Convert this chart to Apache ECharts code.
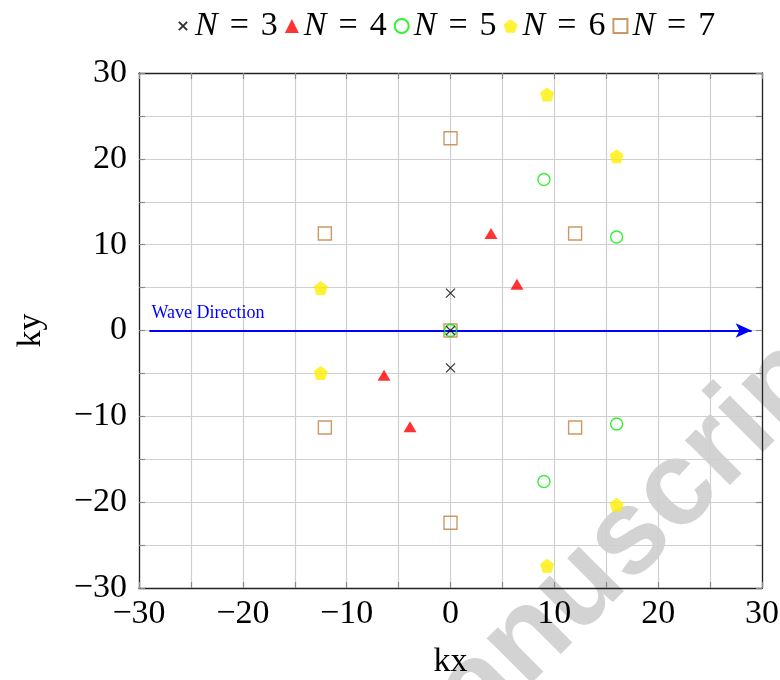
<!DOCTYPE html>
<html>
<head>
<meta charset="utf-8">
<script src="https://cdn.jsdelivr.net/npm/echarts@6/dist/echarts.min.js"></script>
<style>html,body{margin:0;padding:0;background:#fff}#c{width:780px;height:680px}</style>
</head>
<body>
<div id="c"></div>
<script>
// ---- data ----
var seriesNames = ['N = 3', 'N = 4', 'N = 5', 'N = 6', 'N = 7'];
var n3X = [0, 0, 0];
var n3Y = [0, 4.35, -4.35];
var n4X = [3.9, 6.4, -6.4, -3.9];
var n4Y = [11.3, 5.4, -5.2, -11.2];
var n5X = [0, 9.0, 16.0, 16.0, 9.0];
var n5Y = [0, 17.6, 10.9, -10.9, -17.6];
var n6X = [9.3, 16.0, -12.5, -12.5, 16.0, 9.3];
var n6Y = [27.5, 20.3, 4.95, -4.95, -20.3, -27.4];
var n7X = [0, 0, 12.0, -12.1, -12.1, 12.0, 0];
var n7Y = [0, 22.4, 11.3, 11.3, -11.3, -11.3, -22.4];
var arrowX = [-29, 29];
var arrowY = [0, 0];
var axisMin = -30, axisMax = 30, axisStep = 10;
var arrowLabel = 'Wave Direction';
var xName = 'kx', yName = 'ky';
var watermark = 'Manuscript';

function pairs(xs, ys) { return xs.map(function (x, i) { return [x, ys[i]]; }); }
function fmt(v) { return v < 0 ? '\u2212' + Math.abs(v) : String(v); }

var SERIF = '"Liberation Serif", "Times New Roman", serif';
var crossPath = 'path://M-1,-1L1,1M1,-1L-1,1';
var crossLegendPath = 'path://M-1.7,-1.7L-1.69,-1.69M-1,-1L1,1M1,-1L-1,1M1.69,1.69L1.7,1.7';
var pentPath = 'path://M0,-1L0.951,-0.309L0.588,0.809L-0.588,0.809L-0.951,-0.309Z';

function baseAxis(pos, isX, main) {
  var a = {
    type: 'value', min: axisMin, max: axisMax, interval: axisStep, position: pos,
    axisLine: { show: true, onZero: false, lineStyle: { color: '#222', width: 1.3 } },
    axisTick: { show: true, inside: true, length: 6, lineStyle: { color: '#8a8a8a', width: 1.2 } },
    minorTick: { show: true, splitNumber: 2, length: 6, lineStyle: { color: '#8a8a8a', width: 1.2 } },
    splitLine: { show: main, lineStyle: { color: '#cfcfcf', width: 1.2 } },
    minorSplitLine: { show: main, lineStyle: { color: '#cfcfcf', width: 1.2 } },
    axisLabel: { show: main, formatter: fmt, color: '#000', fontFamily: SERIF, fontSize: 34 }
  };
  if (main) {
    a.name = isX ? xName : yName;
    a.nameLocation = 'middle';
    a.nameTextStyle = { color: '#000', fontFamily: SERIF, fontSize: 34 };
    if (isX) { a.nameGap = 57; a.axisLabel.margin = 9; }
    else { a.nameGap = 91; a.axisLabel.margin = 12; }
  }
  return a;
}

var chart = echarts.init(document.getElementById('c'), null, { renderer: 'canvas' });
var option = {
  backgroundColor: '#fff',
  animation: false,
  grid: { left: 139, right: 18, top: 73, bottom: 92, containLabel: false, outerBoundsMode: 'none' },
  legend: {
    left: 170, top: 4, itemGap: 7, itemWidth: 14, itemHeight: 14,
    data: [
      { name: seriesNames[0], icon: crossLegendPath },
      seriesNames[1], seriesNames[2], seriesNames[3], seriesNames[4]
    ],
    formatter: function (n) { return '{i|N}{e|=}{d|' + n.substring(n.length - 1) + '}'; },
    textStyle: {
      color: '#000', fontFamily: SERIF, fontSize: 34,
      rich: {
        i: { fontStyle: 'italic', fontFamily: SERIF, fontSize: 34, color: '#000' },
        e: { fontFamily: SERIF, fontSize: 34, color: '#000', padding: [0, 12, 0, 12] },
        d: { fontFamily: SERIF, fontSize: 34, color: '#000' }
      }
    }
  },
  graphic: [{
    type: 'text', x: 427, y: 826, rotation: Math.PI / 4, z: -10, silent: true,
    style: { text: watermark, font: 'bold 120px "Liberation Sans", Arial, sans-serif', fill: '#d3d3d3', textAlign: 'left', textVerticalAlign: 'bottom' }
  }],
  xAxis: [baseAxis('bottom', true, true), baseAxis('top', true, false)],
  yAxis: [baseAxis('left', false, true), baseAxis('right', false, false)],
  series: [
    {
      name: 'arrow', type: 'line', data: pairs(arrowX, arrowY), symbol: 'none',
      lineStyle: { opacity: 0 }, silent: true, z: 3,
      markLine: {
        silent: true, symbol: ['none', 'arrow'], symbolSize: [11, 16], animation: false,
        lineStyle: { color: '#0000ff', width: 2, type: 'solid' },
        label: { show: true, position: 'insideStartTop', formatter: arrowLabel, color: '#0000ff', fontFamily: SERIF, fontSize: 18, distance: [2, 8] },
        data: [[{ coord: [arrowX[0], arrowY[0]] }, { coord: [arrowX[1], arrowY[1]] }]]
      }
    },
    {
      name: seriesNames[4], type: 'scatter', data: pairs(n7X, n7Y), symbol: 'rect', symbolSize: 13, z: 4,
      itemStyle: { color: 'rgba(0,0,0,0)', borderColor: '#bf8040', borderWidth: 1.4 }
    },
    {
      name: seriesNames[3], type: 'scatter', data: pairs(n6X, n6Y), symbol: pentPath, symbolSize: 14, z: 4,
      itemStyle: { color: '#ffee00' }
    },
    {
      name: seriesNames[2], type: 'scatter', data: pairs(n5X, n5Y), symbol: 'circle', symbolSize: 12, z: 5,
      itemStyle: { color: 'rgba(0,0,0,0)', borderColor: '#00ee00', borderWidth: 1.4 }
    },
    {
      name: seriesNames[1], type: 'scatter', data: pairs(n4X, n4Y), symbol: 'triangle', symbolSize: [13, 11], z: 5,
      itemStyle: { color: '#ff0000' }
    },
    {
      name: seriesNames[0], type: 'scatter', data: pairs(n3X, n3Y), symbol: crossPath, symbolSize: 9, z: 6,
      itemStyle: { color: 'rgba(0,0,0,0)', borderColor: '#000', borderWidth: 1.2 }
    }
  ]
};
chart.setOption(option);
</script>
</body>
</html>
